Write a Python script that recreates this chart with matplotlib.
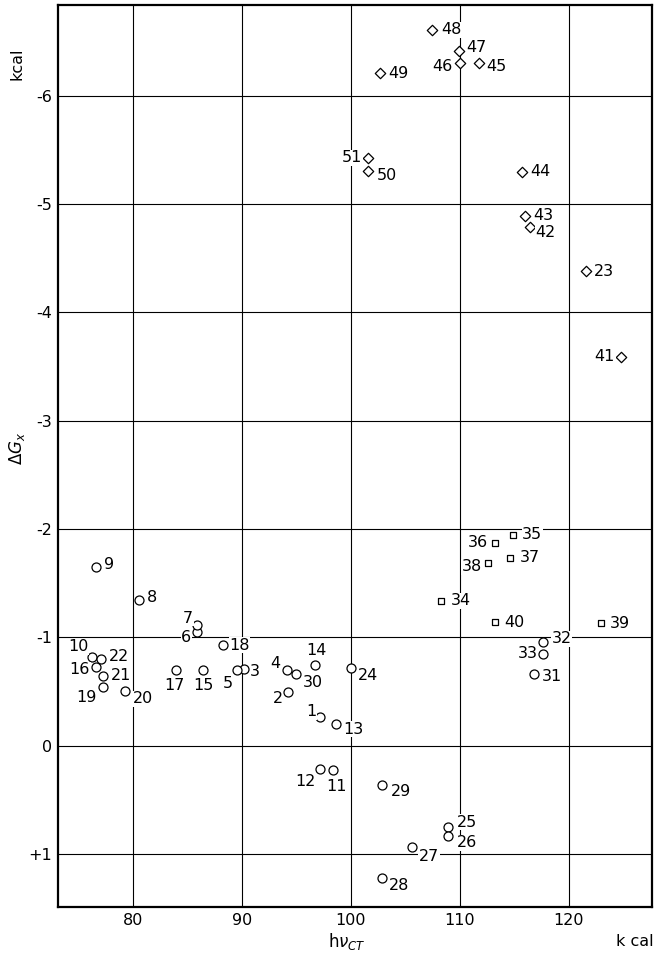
import matplotlib
matplotlib.use('Agg')
import matplotlib.pyplot as plt

plt.rcParams['font.family'] = ['DejaVu Sans']

# ── data: (h nu_CT [kcal], Delta G_x [kcal]) ─────────────────────────────────
circle_ids = [1, 2, 3, 4, 5, 6, 7, 8, 9, 10, 11, 12, 13, 14, 15, 16, 17, 18, 19,
              20, 21, 22, 24, 25, 26, 27, 28, 29, 30, 31, 32, 33]
circle_x = [97.2, 94.2, 90.2, 94.1, 89.5, 85.9, 85.9, 80.55, 76.6, 76.2, 98.4, 97.2,
            98.6, 96.7, 86.4, 76.6, 83.9, 88.3, 77.2, 79.3, 77.2, 77.1, 100.0,
            108.9, 108.9, 105.6, 102.9, 102.9, 95.0, 116.8, 117.6, 117.6]
circle_y = [-0.27, -0.50, -0.71, -0.70, -0.70, -1.05, -1.115, -1.35, -1.65, -0.82,
            0.22, 0.21, -0.20, -0.75, -0.70, -0.73, -0.70, -0.93, -0.54, -0.51,
            -0.645, -0.80, -0.72, 0.75, 0.83, 0.93, 1.22, 0.36, -0.66, -0.66,
            -0.96, -0.85]

square_ids = [34, 35, 36, 37, 38, 39, 40]
square_x = [108.3, 114.9, 113.2, 114.65, 112.6, 122.95, 113.2]
square_y = [-1.34, -1.945, -1.87, -1.73, -1.69, -1.13, -1.14]

diamond_ids = [23, 41, 42, 43, 44, 45, 46, 47, 48, 49, 50, 51]
diamond_x = [121.6, 124.8, 116.4, 116.0, 115.7, 111.8, 110.0, 109.95, 107.4, 102.7,
             101.6, 101.6]
diamond_y = [-4.38, -3.59, -4.79, -4.89, -5.30, -6.30, -6.30, -6.41, -6.61, -6.21,
             -5.31, -5.43]

x_ticks = [80, 90, 100, 110, 120]
y_ticks = [-6, -5, -4, -3, -2, -1, 0, 1]
y_tick_labels = ['-6', '-5', '-4', '-3', '-2', '-1', '0', '+1']

# label placement (pixel offset from marker, horizontal alignment)
LABEL_POS = {
    1: (-4, 5, 'right'), 2: (-5, -7, 'right'), 3: (6, -3, 'left'), 4: (-6, 6, 'right'),
    5: (-4, -14, 'right'), 6: (-6, -5, 'right'), 7: (-4, 7, 'right'), 8: (8, 2, 'left'),
    9: (8, 3, 'left'), 10: (-3, 10, 'right'), 11: (3, -17, 'center'),
    12: (-5, -13, 'right'), 13: (8, -5, 'left'), 14: (1, 14, 'center'),
    15: (1, -16, 'center'), 16: (-6, -3, 'right'), 17: (-1, -16, 'center'),
    18: (6, 0, 'left'), 19: (-6, -10, 'right'), 20: (7, -8, 'left'),
    21: (8, 0, 'left'), 22: (7, 3, 'left'), 23: (8, 0, 'left'), 24: (7, -8, 'left'),
    25: (9, 5, 'left'), 26: (9, -7, 'left'), 27: (7, -10, 'left'), 28: (6, -8, 'left'),
    29: (8, -7, 'left'), 30: (6, -8, 'left'), 31: (8, -2, 'left'), 32: (9, 3, 'left'),
    33: (-5, 0, 'right'), 34: (10, 0, 'left'), 35: (9, 1, 'left'), 36: (-7, 1, 'right'),
    37: (9, 1, 'left'), 38: (-6, -4, 'right'), 39: (9, 0, 'left'), 40: (10, 0, 'left'),
    41: (-6, 0, 'right'), 42: (6, -6, 'left'), 43: (8, 1, 'left'), 44: (8, 0, 'left'),
    45: (7, -3, 'left'), 46: (-7, -3, 'right'), 47: (7, 4, 'left'), 48: (10, 0, 'left'),
    49: (8, 0, 'left'), 50: (8, -5, 'left'), 51: (-6, 0, 'right'),
}

fig = plt.figure(figsize=(6.58, 9.59), dpi=100)
ax = fig.add_axes([0.088, 0.054, 0.903, 0.941])

ax.set_xlim(73.1, 127.65)
ax.set_ylim(1.49, -6.84)

ax.set_xticks(x_ticks)
ax.set_xticklabels([str(t) for t in x_ticks], fontsize=11.5)
ax.set_yticks(y_ticks)
ax.set_yticklabels(y_tick_labels, fontsize=11.5)
ax.tick_params(length=0, pad=4)
ax.grid(True, color='black', linewidth=0.8)
ax.set_axisbelow(True)
for s in ax.spines.values():
    s.set_linewidth(1.6)

ax.scatter(circle_x, circle_y, s=42, marker='o', facecolor='white',
           edgecolor='black', linewidth=0.9, zorder=3)
ax.scatter(square_x, square_y, s=24, marker='s', facecolor='white',
           edgecolor='black', linewidth=0.9, zorder=3)
ax.scatter(diamond_x, diamond_y, s=28, marker='D', facecolor='white',
           edgecolor='black', linewidth=0.9, zorder=3)

for ids, xs, ys in [(circle_ids, circle_x, circle_y),
                    (square_ids, square_x, square_y),
                    (diamond_ids, diamond_x, diamond_y)]:
    for i, xv, yv in zip(ids, xs, ys):
        dx, dy, ha = LABEL_POS[i]
        ax.annotate(str(i), (xv, yv), xytext=(dx, dy), textcoords='offset pixels',
                    ha=ha, va='center', fontsize=11.5, zorder=4,
                    bbox=dict(fc='white', ec='none', pad=0.3))

# axis captions
fig.text(17 / 658, 1 - 64 / 959, 'kcal', rotation=90, ha='center', va='center', fontsize=11.5)
fig.text(17 / 658, 1 - 448 / 959, r'$\Delta G_x$', rotation=90, ha='center', va='center',
         fontsize=12)
fig.text(347 / 658, 1 - 942 / 959, r'h$\nu_{\mathit{CT}}$', ha='center', va='center',
         fontsize=12)
fig.text(635 / 658, 1 - 942 / 959, 'k cal', ha='center', va='center', fontsize=11.5)

fig.savefig('out.png', dpi=100)
